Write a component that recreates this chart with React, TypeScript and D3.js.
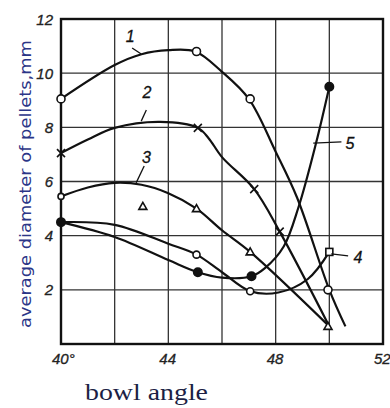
import * as d3 from "d3";

// curve 1 (open circles)
const c1x = [40, 42, 43, 44, 45, 46, 47, 48, 48.8, 50, 50.6];
const c1y = [9.05, 10.3, 10.7, 10.85, 10.8, 10.05, 9.05, 7.1, 5.4, 2.0, 0.65];
const c1mx = [40, 45.05, 47.05, 49.95];
const c1my = [9.05, 10.8, 9.05, 2.0];

// curve 2 (crosses)
const c2x = [40, 41, 42, 43.7, 45.1, 45.5, 46, 47.2, 48.15, 50];
const c2y = [7.05, 7.55, 7.98, 8.2, 7.98, 7.6, 6.9, 5.72, 4.15, 0.65];
const c2mx = [40, 45.1, 47.2, 48.15];
const c2my = [7.05, 7.98, 5.72, 4.15];

// curve 3 (triangles)
const c3x = [40, 41, 42, 43, 44, 45.05, 46, 47.05, 50];
const c3y = [5.45, 5.78, 5.95, 5.88, 5.57, 5.0, 4.2, 3.4, 0.65];
const c3mx = [45.05, 47.05, 49.95, 43.05];
const c3my = [5.0, 3.4, 0.65, 5.08];

// curve 4 (small circles / square)
const c4x = [40, 42, 44, 45.05, 46, 47.05, 48.1, 49.2, 50];
const c4y = [4.5, 4.4, 3.7, 3.3, 2.65, 1.95, 1.9, 2.4, 3.4];
const c4mx = [45.05, 47.05];
const c4my = [3.3, 1.95];

// curve 5 (filled dots)
const c5x = [40, 42, 44, 45.1, 46, 47.1, 47.6, 48.3, 48.85, 49.5, 50];
const c5y = [4.5, 3.95, 3.1, 2.65, 2.45, 2.5, 2.8, 3.6, 5.05, 7.4, 9.5];
const c5mx = [40, 45.1, 47.1, 50];
const c5my = [4.5, 2.65, 2.5, 9.5];

const xTicks = [40, 44, 48, 52];
const xTickLabels = ["40°", "44", "48", "52"];
const xGrid = [42, 44, 46, 48, 50];
const yTicks = [2, 4, 6, 8, 10, 12];
const yGrid = [2, 4, 6, 8, 10];

const curveLabels = ["1", "2", "3", "4", "5"];
const labelX = [42.58, 43.2, 43.18, 51.07, 50.77];
const labelY = [11.34, 9.27, 6.9, 3.21, 7.42];
const leaderX1 = [42.65, 43.18, 43.1, 50.07, 49.4];
const leaderY1 = [10.93, 8.64, 6.57, 3.33, 7.42];
const leaderX2 = [42.99, 42.99, 42.8, 50.7, 50.45];
const leaderY2 = [10.71, 8.23, 5.95, 3.25, 7.46];

const W = 390;
const H = 408;

export default function App() {
  const x = d3.scaleLinear().domain([40, 52]).range([61, 383]);
  const y = d3.scaleLinear().domain([0, 12]).range([344, 19]);

  const line = d3
    .line<[number, number]>()
    .x((d) => x(d[0]))
    .y((d) => y(d[1]))
    .curve(d3.curveCatmullRom.alpha(0.5));

  const zip = (a: number[], b: number[]) => a.map((v, i) => [v, b[i]] as [number, number]);
  const curves = [zip(c1x, c1y), zip(c2x, c2y), zip(c3x, c3y), zip(c4x, c4y), zip(c5x, c5y)];

  const tickFont = { fontFamily: "'Liberation Sans', Arial, sans-serif", fontStyle: "italic", fontSize: 15 };

  return (
    <svg width={W} height={H} style={{ position: "absolute", left: 0, top: 0, background: "#fff" }}>
      <rect width={W} height={H} fill="#fff" />
      {/* grid */}
      <g stroke="#333" strokeWidth={1.3}>
        {xGrid.map((v) => (
          <line key={"gx" + v} x1={x(v)} x2={x(v)} y1={y(12)} y2={y(0)} />
        ))}
        {yGrid.map((v) => (
          <line key={"gy" + v} x1={x(40)} x2={x(52)} y1={y(v)} y2={y(v)} />
        ))}
      </g>
      <rect x={x(40)} y={y(12)} width={x(52) - x(40)} height={y(0) - y(12)} fill="none" stroke="#111" strokeWidth={2.4} />

      {/* curves */}
      <g fill="none" stroke="#111" strokeWidth={2.2}>
        {curves.map((c, i) => (
          <path key={"c" + i} d={line(c) ?? ""} />
        ))}
      </g>

      {/* markers */}
      <g stroke="#111" strokeWidth={1.6}>
        {c1mx.map((v, i) => (
          <circle key={"m1" + i} cx={x(v)} cy={y(c1my[i])} r={4} fill="#fff" />
        ))}
        {c2mx.map((v, i) => (
          <path
            key={"m2" + i}
            d={`M${x(v) - 4},${y(c2my[i]) - 4}L${x(v) + 4},${y(c2my[i]) + 4}M${x(v) - 4},${y(c2my[i]) + 4}L${x(v) + 4},${y(c2my[i]) - 4}`}
          />
        ))}
        <circle cx={x(c3x[0])} cy={y(c3y[0])} r={3} fill="#fff" />
        {c3mx.map((v, i) => (
          <path
            key={"m3" + i}
            d={`M${x(v)},${y(c3my[i]) - 4}L${x(v) + 4},${y(c3my[i]) + 3}L${x(v) - 4},${y(c3my[i]) + 3}Z`}
            fill="#fff"
          />
        ))}
        {c4mx.map((v, i) => (
          <circle key={"m4" + i} cx={x(v)} cy={y(c4my[i])} r={3.5} fill="#fff" />
        ))}
        <rect x={x(50) - 3.5} y={y(3.4) - 3.5} width={7} height={7} fill="#fff" />
        {c5mx.map((v, i) => (
          <circle key={"m5" + i} cx={x(v)} cy={y(c5my[i])} r={4.2} fill="#111" />
        ))}
      </g>

      {/* curve labels */}
      <g stroke="#111" strokeWidth={1.3}>
        {curveLabels.map((l, i) => (
          <line key={"ld" + i} x1={x(leaderX1[i])} y1={y(leaderY1[i])} x2={x(leaderX2[i])} y2={y(leaderY2[i])} />
        ))}
      </g>
      <g {...tickFont} fontSize={16} fill="#111" stroke="#111" strokeWidth={0.3} textAnchor="middle" dominantBaseline="central">
        {curveLabels.map((l, i) => (
          <text key={"l" + i} x={x(labelX[i])} y={y(labelY[i])}>
            {l}
          </text>
        ))}
      </g>

      {/* tick labels */}
      <g {...tickFont} fill="#222" stroke="#222" strokeWidth={0.3}>
        {yTicks.map((v) => (
          <text key={"yt" + v} x={53} y={y(v)} textAnchor="end" dominantBaseline="central">
            {v}
          </text>
        ))}
        {xTicks.map((v, i) => (
          <text key={"xt" + v} x={x(v) - 9} y={358} dominantBaseline="central">
            {xTickLabels[i]}
          </text>
        ))}
      </g>

      {/* axis titles */}
      <text
        transform="translate(26,184) rotate(-90)"
        textAnchor="middle"
        dominantBaseline="central"
        fontFamily="'DejaVu Sans', Verdana, sans-serif"
        fontSize={15}
        fill="#2b3587"
        textLength={288}
        lengthAdjust="spacingAndGlyphs"
      >
        average diameter of pellets,mm
      </text>
      <text
        x={85}
        y={400}
        fontFamily="'Liberation Serif', 'Times New Roman', serif"
        fontSize={24}
        fill="#1c1f45"
        textLength={123}
        lengthAdjust="spacingAndGlyphs"
      >
        bowl angle
      </text>
    </svg>
  );
}
